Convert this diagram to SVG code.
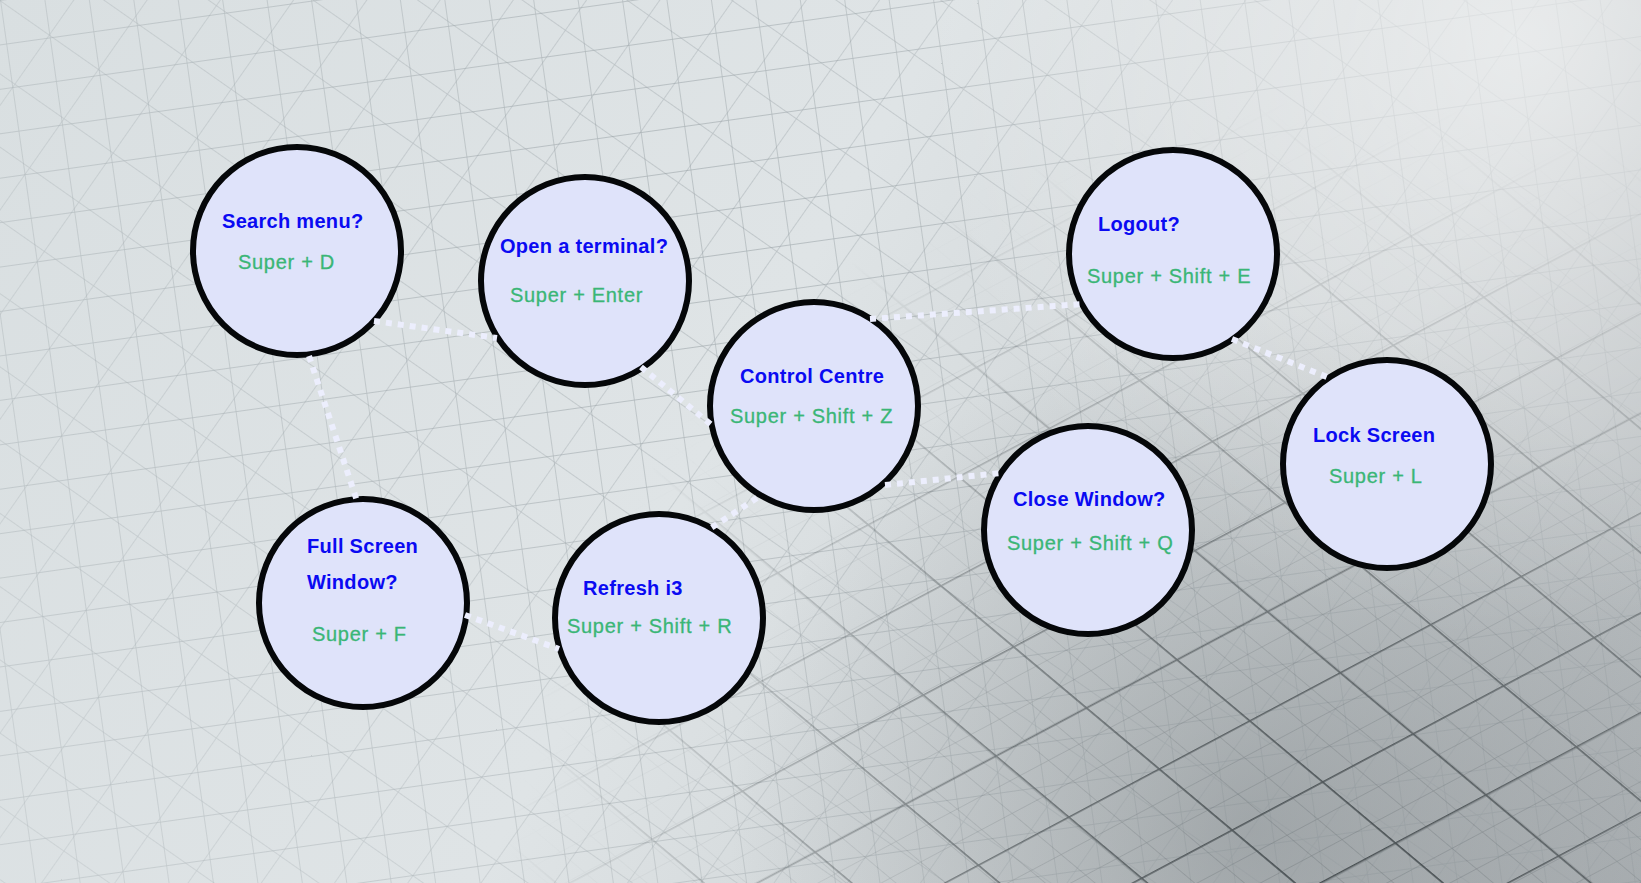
<svg xmlns="http://www.w3.org/2000/svg" width="1641" height="883" viewBox="0 0 1641 883">
<defs>
<style>
.node circle{fill:#dfe3fa;stroke:#050709;stroke-width:6}
.t{font-family:"Liberation Sans",Arial,sans-serif;font-size:20px;font-weight:bold;fill:#0a0af2;letter-spacing:0.3px}
.k{font-family:"Liberation Sans",Arial,sans-serif;font-size:20px;fill:#3ab676;letter-spacing:0.7px;stroke:#3ab676;stroke-width:0.3}
.edge{stroke:#eceefd;stroke-width:6;stroke-dasharray:6 6;fill:none}
</style>
<linearGradient id="bg" x1="0" y1="0" x2="1641" y2="883" gradientUnits="userSpaceOnUse">
<stop offset="0" stop-color="#d9dfe1"/>
<stop offset="0.45" stop-color="#dfe4e6"/>
<stop offset="0.75" stop-color="#ccd1d3"/>
<stop offset="1" stop-color="#aeb3b6"/>
</linearGradient>
<radialGradient id="hl" cx="1520" cy="40" r="600" gradientUnits="userSpaceOnUse">
<stop offset="0" stop-color="#ffffff" stop-opacity="0.55"/>
<stop offset="1" stop-color="#ffffff" stop-opacity="0"/>
</radialGradient>
<radialGradient id="dk" cx="1250" cy="830" r="520" gradientUnits="userSpaceOnUse">
<stop offset="0" stop-color="#5a6165" stop-opacity="0.35"/>
<stop offset="1" stop-color="#5a6165" stop-opacity="0"/>
</radialGradient>
<radialGradient id="rgA" cx="700" cy="250" r="900" gradientUnits="userSpaceOnUse">
<stop offset="0" stop-color="#fff" stop-opacity="0.9"/>
<stop offset="1" stop-color="#fff" stop-opacity="0.45"/>
</radialGradient>
<radialGradient id="rgB" cx="1350" cy="950" r="850" gradientUnits="userSpaceOnUse">
<stop offset="0" stop-color="#fff" stop-opacity="1"/>
<stop offset="0.55" stop-color="#fff" stop-opacity="0.5"/>
<stop offset="1" stop-color="#fff" stop-opacity="0"/>
</radialGradient>
<mask id="mA"><rect width="1641" height="883" fill="url(#rgA)"/></mask>
<mask id="mB"><rect width="1641" height="883" fill="url(#rgB)"/></mask>
<pattern id="g1" width="44" height="44" patternUnits="userSpaceOnUse" patternTransform="rotate(-8)">
<path d="M0 0H44M0 0V44" stroke="#7a858a" stroke-width="1.3" fill="none"/>
</pattern>
<pattern id="g2" width="60" height="60" patternUnits="userSpaceOnUse" patternTransform="rotate(35)">
<path d="M0 0H60M0 0V60" stroke="#838d92" stroke-width="1.4" fill="none"/>
</pattern>
<pattern id="g3" width="95" height="95" patternUnits="userSpaceOnUse" patternTransform="translate(1250 720) rotate(40) skewX(-22)">
<path d="M0 0H95M0 0V95" stroke="#30373a" stroke-width="3.2" fill="none"/>
</pattern>
<pattern id="g4" width="32" height="32" patternUnits="userSpaceOnUse" patternTransform="translate(1250 720) rotate(40) skewX(-22)">
<path d="M0 0H32M0 0V32" stroke="#5f676b" stroke-width="1" fill="none"/>
</pattern>
</defs>

<g id="background">
<rect width="1641" height="883" fill="url(#bg)"/>
<rect width="1641" height="883" fill="url(#dk)"/>
<g mask="url(#mA)">
<rect width="1641" height="883" fill="url(#g1)" opacity="0.6"/>
<rect width="1641" height="883" fill="url(#g2)" opacity="0.5"/>
</g>
<g mask="url(#mB)">
<rect width="1641" height="883" fill="url(#g4)" opacity="0.65"/>
<rect width="1641" height="883" fill="url(#g3)" opacity="0.85"/>
</g>
<rect width="1641" height="883" fill="url(#hl)"/>
</g>

<g id="search-menu" class="node">
<circle cx="297" cy="251" r="104"/>
<text class="t" x="222" y="228">Search menu?</text>
<text class="k" x="238" y="269">Super + D</text>
</g>
<g id="open-terminal" class="node">
<circle cx="585" cy="281" r="104"/>
<text class="t" x="500" y="253">Open a terminal?</text>
<text class="k" x="510" y="302">Super + Enter</text>
</g>
<g id="control-centre" class="node">
<circle cx="814" cy="406" r="104"/>
<text class="t" x="740" y="383">Control Centre</text>
<text class="k" x="730" y="423">Super + Shift + Z</text>
</g>
<g id="logout" class="node">
<circle cx="1173" cy="254" r="104"/>
<text class="t" x="1098" y="231">Logout?</text>
<text class="k" x="1087" y="283">Super + Shift + E</text>
</g>
<g id="lock-screen" class="node">
<circle cx="1387" cy="464" r="104"/>
<text class="t" x="1313" y="442">Lock Screen</text>
<text class="k" x="1329" y="483">Super + L</text>
</g>
<g id="close-window" class="node">
<circle cx="1088" cy="530" r="104"/>
<text class="t" x="1013" y="506">Close Window?</text>
<text class="k" x="1007" y="550">Super + Shift + Q</text>
</g>
<g id="refresh-i3" class="node">
<circle cx="659" cy="618" r="104"/>
<text class="t" x="583" y="595">Refresh i3</text>
<text class="k" x="567" y="633">Super + Shift + R</text>
</g>
<g id="full-screen" class="node">
<circle cx="363" cy="603" r="104"/>
<text class="t" x="307" y="553">Full Screen</text>
<text class="t" x="307" y="589">Window?</text>
<text class="k" x="312" y="641">Super + F</text>
</g>

<g id="connectors">
<path class="edge" d="M374 321 L497 338"/>
<path class="edge" d="M309 356 L357 501"/>
<path class="edge" d="M641 367 L714 427"/>
<path class="edge" d="M870 319 L1083 304"/>
<path class="edge" d="M757 498 L711 528"/>
<path class="edge" d="M885 485 L1001 473"/>
<path class="edge" d="M1232 339 L1332 379"/>
<path class="edge" d="M465 615 L559 649"/>
</g>
</svg>
